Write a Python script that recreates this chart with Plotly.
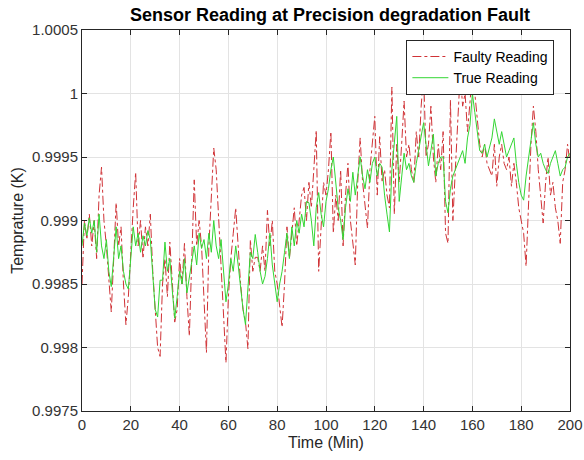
import plotly.graph_objects as go

time_min = list(range(0, 201))

true_reading = [
    0.99880, 0.99898, 0.99888, 0.99902, 0.99890, 0.99900, 0.99875, 0.99905, 0.99880, 0.99870,
    0.99885, 0.99860, 0.99848, 0.99875, 0.99895, 0.99870, 0.99880, 0.99860, 0.99850, 0.99846,
    0.99870, 0.99895, 0.99880, 0.99890, 0.99875, 0.99888, 0.99880, 0.99892, 0.99885, 0.99860,
    0.99830, 0.99824, 0.99853, 0.99853, 0.99883, 0.99860, 0.99870, 0.99845, 0.99823, 0.99840,
    0.99860, 0.99850, 0.99870, 0.99843, 0.99855, 0.99870, 0.99880, 0.99865, 0.99890, 0.99878,
    0.99885, 0.99870, 0.99890, 0.99875, 0.99900, 0.99880, 0.99870, 0.99885, 0.99860, 0.99836,
    0.99850, 0.99870, 0.99860, 0.99880, 0.99865, 0.99845, 0.99830, 0.99818, 0.99850, 0.99875,
    0.99870, 0.99889, 0.99875, 0.99860, 0.99850, 0.99856, 0.99870, 0.99890, 0.99865, 0.99850,
    0.99836, 0.99850, 0.99860, 0.99875, 0.99890, 0.99870, 0.99895, 0.99880, 0.99900, 0.99890,
    0.99905, 0.99895, 0.99915, 0.99914, 0.99900, 0.99880, 0.99910, 0.99922, 0.99905, 0.99895,
    0.99915, 0.99925, 0.99940, 0.99950, 0.99930, 0.99910, 0.99900, 0.99885, 0.99910, 0.99925,
    0.99915, 0.99938, 0.99920, 0.99935, 0.99950, 0.99935, 0.99925, 0.99940, 0.99930, 0.99945,
    0.99950, 0.99935, 0.99945, 0.99942, 0.99920, 0.99905, 0.99891, 0.99940, 0.99960, 0.99982,
    0.99915, 0.99935, 0.99953, 0.99940, 0.99945, 0.99935, 0.99930, 0.99945, 0.99955, 0.99965,
    0.99977, 0.99960, 0.99943, 0.99955, 0.99968, 0.99935, 0.99945, 0.99950, 0.99950, 0.99915,
    0.99906, 0.99925, 0.99935, 0.99940, 0.99945, 0.99950, 0.99955, 0.99945, 0.99965, 0.99975,
    1.00000, 0.99985, 0.99970, 0.99955, 0.99953, 0.99960, 0.99950, 0.99957, 0.99965, 0.99980,
    0.99970, 0.99960, 0.99970, 0.99960, 0.99950, 0.99955, 0.99960, 0.99965, 0.99945, 0.99930,
    0.99920, 0.99916, 0.99935, 0.99950, 0.99965, 0.99977, 0.99960, 0.99950, 0.99953, 0.99945,
    0.99940, 0.99937, 0.99945, 0.99950, 0.99955, 0.99945, 0.99935, 0.99940, 0.99942, 0.99950,
    0.99953,
]

faulty_reading = [
    0.99850, 0.99900, 0.99885, 0.99905, 0.99880, 0.99900, 0.99870, 0.99920, 0.99942, 0.99900,
    0.99880, 0.99850, 0.99828, 0.99870, 0.99914, 0.99880, 0.99895, 0.99850, 0.99818, 0.99840,
    0.99880, 0.99910, 0.99938, 0.99880, 0.99900, 0.99870, 0.99895, 0.99880, 0.99905, 0.99860,
    0.99830, 0.99800, 0.99793, 0.99850, 0.99870, 0.99840, 0.99883, 0.99850, 0.99820, 0.99830,
    0.99870, 0.99850, 0.99882, 0.99840, 0.99809, 0.99870, 0.99932, 0.99880, 0.99900, 0.99880,
    0.99840, 0.99796, 0.99880, 0.99920, 0.99957, 0.99940, 0.99900, 0.99870, 0.99830, 0.99788,
    0.99840, 0.99870, 0.99890, 0.99910, 0.99880, 0.99850, 0.99830, 0.99820, 0.99799, 0.99885,
    0.99860, 0.99871, 0.99871, 0.99860, 0.99880, 0.99860, 0.99908, 0.99880, 0.99900, 0.99860,
    0.99850, 0.99830, 0.99816, 0.99850, 0.99895, 0.99870, 0.99890, 0.99910, 0.99880, 0.99900,
    0.99920, 0.99926, 0.99900, 0.99930, 0.99910, 0.99940, 0.99971, 0.99860, 0.99900, 0.99930,
    0.99920, 0.99940, 0.99970, 0.99890, 0.99920, 0.99900, 0.99940, 0.99880, 0.99920, 0.99945,
    0.99900, 0.99880, 0.99865, 0.99930, 0.99965, 0.99930, 0.99910, 0.99894, 0.99940, 0.99960,
    0.99982, 0.99920, 0.99966, 0.99930, 0.99940, 0.99920, 0.99910, 1.00005, 0.99905, 0.99960,
    0.99930, 0.99960, 0.99994, 0.99950, 0.99960, 0.99940, 0.99930, 0.99970, 0.99950, 0.99990,
    1.00016, 0.99950, 0.99960, 0.99990, 0.99950, 0.99930, 0.99960, 0.99940, 0.99970, 0.99890,
    0.99882, 0.99995, 0.99900, 0.99940, 0.99980, 1.00016, 0.99990, 1.00000, 0.99970, 0.99990,
    1.00016, 1.00000, 0.99980, 0.99960, 0.99950, 0.99960, 0.99945, 0.99940, 0.99935, 0.99960,
    0.99927, 0.99950, 0.99960, 0.99945, 0.99940, 0.99950, 0.99927, 0.99945, 0.99930, 0.99910,
    0.99900, 0.99890, 0.99864, 0.99920, 0.99960, 0.99990, 0.99970, 0.99940, 0.99920, 0.99898,
    0.99930, 0.99950, 0.99920, 0.99930, 0.99910, 0.99900, 0.99882, 0.99930, 0.99940, 0.99960,
    0.99945,
]

x_ticks = [0, 20, 40, 60, 80, 100, 120, 140, 160, 180, 200]
y_ticks = [0.9975, 0.998, 0.9985, 0.999, 0.9995, 1.0, 1.0005]
y_tick_labels = ["0.9975", "0.998", "0.9985", "0.999", "0.9995", "1", "1.0005"]

font_family = "Liberation Sans, Arial, Helvetica, sans-serif"

fig = go.Figure()
fig.add_trace(go.Scatter(
    x=time_min, y=faulty_reading, mode="lines", name="Faulty Reading",
    line=dict(color="#d03236", width=1, dash="dashdot"),
))
fig.add_trace(go.Scatter(
    x=time_min, y=true_reading, mode="lines", name="True Reading",
    line=dict(color="#33d633", width=1),
))

axis_common = dict(
    showline=True, linecolor="#262626", linewidth=1, mirror="ticks",
    ticks="inside", ticklen=5, tickcolor="#262626",
    showgrid=True, gridcolor="#e3e3e3", gridwidth=1, zeroline=False,
    automargin=False,
    tickfont=dict(family=font_family, size=15, color="#333333"),
)

fig.update_layout(
    width=584, height=460,
    margin=dict(l=82, r=14, t=30, b=49, autoexpand=False),
    paper_bgcolor="white", plot_bgcolor="white",
    title=dict(text="<b>Sensor Reading at Precision degradation Fault</b>",
               x=0.565, xanchor="center", y=0.967, yanchor="middle",
               font=dict(family=font_family, size=18, color="black")),
    xaxis=dict(range=[0, 200], tickvals=x_ticks,
               title=dict(text="Time (Min)", standoff=4,
                          font=dict(family=font_family, size=16, color="#262626")),
               **axis_common),
    yaxis=dict(range=[0.9975, 1.0005], tickvals=y_ticks, ticktext=y_tick_labels,
               title=dict(text="Temprature (K)", standoff=4,
                          font=dict(family=font_family, size=16, color="#262626")),
               **axis_common),
    legend=dict(x=0.968, y=0.974, xanchor="right", yanchor="top",
                bgcolor="white", bordercolor="#262626", borderwidth=1,
                font=dict(family=font_family, size=14, color="black"),
                tracegroupgap=0, itemwidth=36),
    showlegend=True,
)

fig.write_html("out.html")
